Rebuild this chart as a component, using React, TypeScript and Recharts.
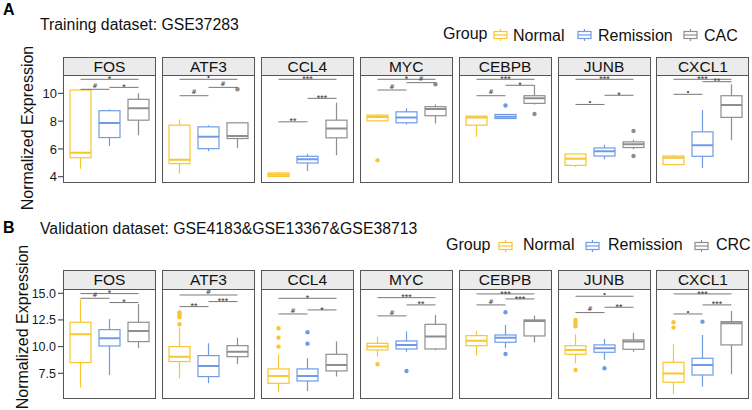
import { ComposedChart, Bar, XAxis, YAxis, ReferenceLine } from 'recharts';

const FONT = "'Liberation Sans', Arial, sans-serif";

const GENES = ['FOS', 'ATF3', 'CCL4', 'MYC', 'CEBPB', 'JUNB', 'CXCL1'];
const TRAIN_GROUPS = ['Normal', 'Remission', 'CAC'];
const VALID_GROUPS = ['Normal', 'Remission', 'CRC'];
const GROUP_COLORS = ['#F7C631', '#6F9BE6', '#8E8E8E'];

// [min, q1, median, q3, max] for Normal / Remission / CAC per gene
const TRAIN_BOXES = [
  [[4.58, 5.37, 5.73, 10.24, 10.24], [6.22, 6.82, 7.86, 8.75, 8.84], [6.99, 8.07, 8.92, 9.57, 10.0]],
  [[4.22, 4.94, 5.23, 7.71, 8.12], [5.83, 6.02, 6.87, 7.59, 7.71], [6.07, 6.75, 6.94, 7.88, 7.88]],
  [[3.98, 4.02, 4.14, 4.27, 4.34], [4.41, 4.99, 5.25, 5.47, 5.66], [5.54, 6.8, 7.47, 8.07, 9.33]],
  [[8.0, 8.02, 8.3, 8.43, 8.5], [7.76, 7.88, 8.27, 8.67, 8.92], [7.83, 8.39, 8.87, 9.04, 9.2]],
  [[6.87, 7.71, 8.27, 8.36, 8.36], [8.19, 8.19, 8.31, 8.48, 8.48], [9.2, 9.28, 9.64, 9.83, 10.58]],
  [[4.7, 4.82, 5.3, 5.64, 5.64], [5.25, 5.49, 5.83, 6.07, 6.31], [5.98, 6.1, 6.34, 6.51, 6.67]],
  [[4.87, 4.87, 5.37, 5.49, 5.59], [4.63, 5.47, 6.27, 7.23, 8.8], [6.63, 8.27, 9.16, 9.83, 10.65]],
];
const TRAIN_OUTLIERS = [
  [[], [], []],
  [[], [], [10.29]],
  [[], [], []],
  [[5.18], [], [10.65]],
  [[], [9.13], [8.51]],
  [[], [], [7.3, 5.49]],
  [[], [], []],
];
// significance: Normal-Remission, Remission-CAC, Normal-CAC
const TRAIN_SIG_LABELS = [
  ['#', '*', '*'],
  ['#', '#', '•'],
  ['**', '***', '***'],
  ['#', '#', '*'],
  ['#', '*', '***'],
  ['•', '*', '***'],
  ['•', '**', '***'],
];
const TRAIN_SIG_Y = [
  [10.29, 10.43, 11.01],
  [9.83, 10.43, 11.01],
  [7.95, 9.64, 11.01],
  [10.24, 10.77, 11.01],
  [9.83, 10.58, 11.01],
  [9.2, 9.86, 11.01],
  [9.93, 10.84, 11.01],
];
const TRAIN_TICKS = [4, 6, 8, 10];

const VALID_BOXES = [
  [[6.16, 8.5, 11.16, 12.28, 14.47], [7.34, 10.06, 10.78, 11.59, 12.59], [9.84, 10.47, 11.47, 12.28, 14.0]],
  [[7.03, 8.6, 9.06, 10.0, 11.8], [6.56, 7.19, 8.19, 9.16, 10.31], [8.34, 9.06, 9.53, 10.09, 10.84]],
  [[5.72, 6.56, 7.25, 7.91, 9.28], [5.84, 6.78, 7.25, 7.91, 8.91], [7.19, 7.72, 8.28, 9.28, 10.47]],
  [[9.06, 9.69, 10.0, 10.31, 10.94], [9.53, 9.78, 10.16, 10.53, 11.41], [9.66, 9.78, 10.94, 12.09, 12.97]],
  [[9.16, 10.09, 10.56, 11.03, 11.47], [9.84, 10.41, 10.84, 11.09, 12.03], [10.38, 11.0, 12.41, 12.5, 12.91]],
  [[8.44, 9.28, 9.69, 10.09, 11.16], [8.75, 9.47, 9.84, 10.16, 10.72], [9.53, 9.75, 10.47, 10.63, 11.31]],
  [[5.53, 6.66, 7.47, 8.53, 10.22], [6.25, 7.34, 8.28, 8.91, 11.09], [7.41, 10.16, 12.19, 12.34, 13.34]],
];
const VALID_OUTLIERS = [
  [[], [], []],
  [[13.2, 13.05, 12.9, 12.75, 12.1], [], []],
  [[10.0, 10.84, 11.72], [10.28, 11.34], []],
  [[8.34], [7.72], []],
  [[], [13.22, 9.31], []],
  [[12.5, 12.3, 12.1, 11.9, 7.81], [7.97], []],
  [[11.78, 12.28], [12.34], []],
];
const VALID_SIG_LABELS = [
  ['#', '*', '*'],
  ['**', '***', '#'],
  ['#', '*', '*'],
  ['#', '**', '***'],
  ['#', '***', '***'],
  ['#', '**', '•'],
  ['•', '***', '***'],
];
const VALID_SIG_Y = [
  [14.53, 14.13, 14.97],
  [13.75, 14.22, 14.84],
  [13.06, 13.44, 14.53],
  [12.88, 13.91, 14.59],
  [13.91, 14.47, 14.94],
  [13.19, 13.69, 14.72],
  [13.06, 13.91, 14.94],
];
const VALID_TICKS = [7.5, 10, 12.5, 15];

const SIG_PAIRS = [[0, 1], [1, 2], [0, 2]];

const PANEL_W = 93;
const PANEL_STEP = 98.9;
const PANEL_LEFT = 63;
const AXIS_W = 40;

const BoxShape = (props: any) => {
  const { x, y, width, height, payload } = props;
  const [lo, q1, med, q3, hi] = payload.stats;
  const span = hi - lo || 1;
  const py = (v: number) => y + ((hi - v) / span) * height;
  const cx = x + width / 2;
  const c = payload.color;
  return (
    <g>
      <line x1={cx} x2={cx} y1={py(hi)} y2={py(q3)} stroke={c} strokeWidth={1.2} />
      <line x1={cx} x2={cx} y1={py(q1)} y2={py(lo)} stroke={c} strokeWidth={1.2} />
      <rect x={x} y={py(q3)} width={width} height={Math.max(py(q1) - py(q3), 0.5)} fill="#fff" stroke={c} strokeWidth={1.2} />
      <line x1={x} x2={x + width} y1={py(med)} y2={py(med)} stroke={c} strokeWidth={2} />
      {payload.outliers.map((v: number, i: number) => (
        <circle key={i} cx={cx} cy={py(v)} r={2.2} fill={c} />
      ))}
    </g>
  );
};

// small text that sits on a bracket; the glyphs need different nudges
const SigLabel = (props: any) => {
  const { viewBox, text } = props;
  if (!viewBox) return null;
  const x0 = viewBox.x ?? viewBox.x1;
  const w = viewBox.width ?? viewBox.x2 - viewBox.x1;
  const y0 = viewBox.y ?? viewBox.y1;
  const isStar = text.startsWith('*');
  const isHash = text === '#';
  const size = isStar ? 9 : isHash ? 6.5 : 7;
  const dy = isStar ? 2.6 : isHash ? -1.3 : 0;
  return (
    <text
      x={x0 + w / 2}
      y={y0 + dy}
      textAnchor="middle"
      fontSize={size}
      fill="#333"
      fontFamily={isHash ? 'DejaVu Sans' : FONT}
    >
      {text}
    </text>
  );
};

interface PanelProps {
  index: number;
  gene: string;
  groups: string[];
  boxes: number[][];
  outliers: number[][];
  sigLabels: string[];
  sigY: number[];
  domain: [number, number];
  ticks: number[];
  stripTop: number;
  stripH: number;
  plotH: number;
  tickFont: number;
  tickSize: number;
  tickMargin: number;
}

function Panel(p: PanelProps) {
  const { index, gene, groups, boxes, outliers, sigLabels, sigY, domain, ticks, stripTop, stripH, plotH } = p;
  const left = PANEL_LEFT + index * PANEL_STEP;
  const showAxis = index === 0;
  const axisW = showAxis ? AXIS_W : 0;
  const plotTop = stripTop + stripH;
  const decimals = ticks.some((t) => t % 1 !== 0);
  const data = groups.map((g, i) => ({
    group: g,
    range: [boxes[i][0], boxes[i][4]],
    stats: boxes[i],
    outliers: outliers[i],
    color: GROUP_COLORS[i],
  }));

  return (
    <>
      <div
        style={{
          position: 'absolute',
          left,
          top: stripTop,
          width: PANEL_W,
          height: stripH + 1,
          boxSizing: 'border-box',
          border: '1px solid #555',
          background: '#EBEBEB',
          textAlign: 'center',
          fontSize: 15.5,
          lineHeight: `${stripH - 1}px`,
          color: '#111',
        }}
      >
        {gene}
      </div>
      <div style={{ position: 'absolute', left: left - axisW, top: plotTop }}>
        <ComposedChart width={PANEL_W + axisW} height={plotH} data={data} margin={{ top: 0, right: 0, bottom: 0, left: 0 }}>
          <XAxis dataKey="group" type="category" hide padding={{ left: 3, right: 3 }} />
          <YAxis
            type="number"
            domain={domain}
            allowDataOverflow
            ticks={ticks}
            interval={0}
            hide={!showAxis}
            width={axisW}
            axisLine={false}
            tickSize={p.tickSize}
            tickMargin={p.tickMargin}
            tickLine={{ stroke: '#333' }}
            tick={{ fontSize: p.tickFont, fill: '#1a1a1a', fontFamily: FONT }}
            tickFormatter={(v) => (decimals ? Number(v).toFixed(1) : String(v))}
          />
          <Bar dataKey="range" barSize={21} shape={<BoxShape />} isAnimationActive={false} />
          {SIG_PAIRS.map(([a, b], k) => (
            <ReferenceLine
              key={k}
              segment={[
                { x: groups[a], y: sigY[k] },
                { x: groups[b], y: sigY[k] },
              ]}
              stroke="#555"
              strokeWidth={0.8}
              label={<SigLabel text={sigLabels[k]} />}
            />
          ))}
        </ComposedChart>
      </div>
      <div
        style={{
          position: 'absolute',
          left,
          top: plotTop,
          width: PANEL_W,
          height: plotH,
          boxSizing: 'border-box',
          border: '1px solid #555',
          pointerEvents: 'none',
        }}
      />
    </>
  );
}

const LegendIcon = ({ x, y, color }: { x: number; y: number; color: string }) => (
  <g>
    <line x1={x + 6.5} x2={x + 6.5} y1={y} y2={y + 12} stroke={color} strokeWidth={1.2} />
    <rect x={x} y={y + 2.5} width={13} height={7} fill="#fff" stroke={color} strokeWidth={1.2} />
    <line x1={x} x2={x + 13} y1={y + 6} y2={y + 6} stroke={color} strokeWidth={1.2} />
  </g>
);

export default function App() {
  return (
    <div style={{ position: 'absolute', left: 0, top: 0, width: 752, height: 410, background: '#fff', fontFamily: FONT, overflow: 'hidden' }}>
      <style>{'.recharts-surface { overflow: visible; }'}</style>
      <svg width={752} height={410} style={{ position: 'absolute', left: 0, top: 0 }} fontFamily={FONT}>
        <text x={3} y={15} fontSize={16} fontWeight="bold" fill="#000">A</text>
        <text x={40} y={29.5} fontSize={15.8} fill="#111">Training dataset: GSE37283</text>
        <text x={443} y={39} fontSize={16} fill="#111">Group</text>
        {TRAIN_GROUPS.map((g, i) => (
          <g key={g}>
            <LegendIcon x={[494, 578, 684][i]} y={29} color={GROUP_COLORS[i]} />
            <text x={[513, 598, 704][i]} y={40.5} fontSize={16} fill="#111">{g}</text>
          </g>
        ))}
        <text transform="translate(33,128) rotate(-90)" textAnchor="middle" fontSize={16} fill="#111">Normalized Expression</text>

        <text x={3} y={233} fontSize={16} fontWeight="bold" fill="#000">B</text>
        <text x={40} y={234} fontSize={15.8} fill="#111">Validation dataset: GSE4183&amp;GSE13367&amp;GSE38713</text>
        <text x={446} y={249.5} fontSize={16} fill="#111">Group</text>
        {VALID_GROUPS.map((g, i) => (
          <g key={g}>
            <LegendIcon x={[499, 586, 695][i]} y={240} color={GROUP_COLORS[i]} />
            <text x={[523, 608, 716][i]} y={250} fontSize={16} fill="#111">{g}</text>
          </g>
        ))}
        <text transform="translate(28,327) rotate(-90)" textAnchor="middle" fontSize={16} fill="#111">Normalized Expression</text>
      </svg>

      {GENES.map((gene, i) => (
        <Panel
          key={`a-${gene}`}
          index={i}
          gene={gene}
          groups={TRAIN_GROUPS}
          boxes={TRAIN_BOXES[i]}
          outliers={TRAIN_OUTLIERS[i]}
          sigLabels={TRAIN_SIG_LABELS[i]}
          sigY={TRAIN_SIG_Y[i]}
          domain={[3.55, 11.32]}
          ticks={TRAIN_TICKS}
          stripTop={57}
          stripH={18}
          plotH={108}
          tickFont={13}
          tickSize={5}
          tickMargin={1}
        />
      ))}
      {GENES.map((gene, i) => (
        <Panel
          key={`b-${gene}`}
          index={i}
          gene={gene}
          groups={VALID_GROUPS}
          boxes={VALID_BOXES[i]}
          outliers={VALID_OUTLIERS[i]}
          sigLabels={VALID_SIG_LABELS[i]}
          sigY={VALID_SIG_Y[i]}
          domain={[5.09, 15.4]}
          ticks={VALID_TICKS}
          stripTop={270}
          stripH={19}
          plotH={110}
          tickFont={12.5}
          tickSize={5}
          tickMargin={2}
        />
      ))}
    </div>
  );
}
